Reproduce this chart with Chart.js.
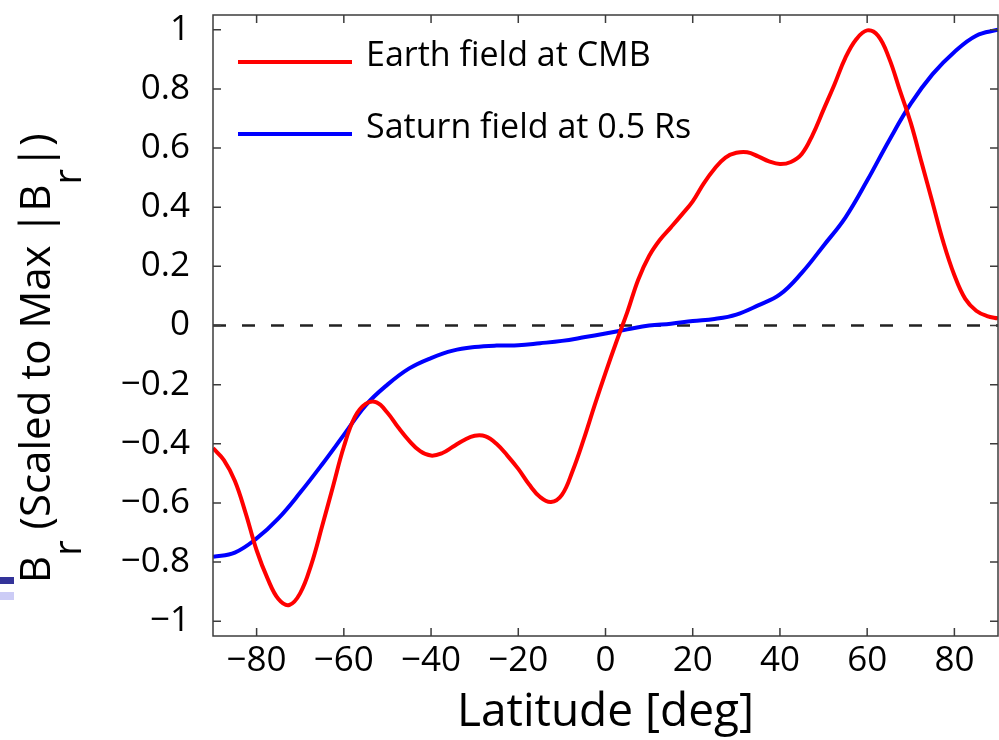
<!DOCTYPE html>
<html>
<head>
<meta charset="utf-8">
<script src="https://cdn.jsdelivr.net/npm/chart.js@4.4.0/dist/chart.umd.min.js"></script>
<style>
  body { margin: 0; background: #fff; }
  #wrap { position: relative; width: 999px; height: 740px; }
  .tab { position: absolute; left: 0; width: 14px; }
</style>
</head>
<body>
<div id="wrap">
  <canvas id="fieldChart" width="999" height="740"></canvas>
  <div class="tab" style="top:577px;height:7px;background:#333399"></div>
  <div class="tab" style="top:592px;height:8px;background:#ccccf6"></div>
</div>
<script>
// ---- data ----
const xTicks = [-80, -60, -40, -20, 0, 20, 40, 60, 80];
const yTicks = [-1, -0.8, -0.6, -0.4, -0.2, 0, 0.2, 0.4, 0.6, 0.8, 1];

const earthLabel = 'Earth field at CMB';
const earthLat = [-90, -87.5, -85, -82.5, -80, -77.5, -75, -72.5, -70, -67.5, -65, -62.5, -60, -57.5, -55, -52.5,
    -50, -47.5, -45, -42.5, -40, -37.5, -35, -32.5, -30, -27.5, -25, -22.5, -20, -17.5, -15, -12.5,
    -10, -7.5, -5, -2.5, 0, 2.5, 5, 7.5, 10, 12.5, 15, 17.5, 20, 22.5, 25, 27.5,
    30, 32.5, 35, 37.5, 40, 42.5, 45, 47.5, 50, 52.5, 55, 57.5, 60, 62.5, 65, 67.5,
    70, 72.5, 75, 77.5, 80, 82.5, 85, 87.5, 90];
const earthVal = [-0.415, -0.455, -0.525, -0.635, -0.76, -0.855, -0.925, -0.945, -0.905, -0.81, -0.68, -0.545, -0.41, -0.31, -0.265, -0.26,
    -0.295, -0.345, -0.39, -0.425, -0.44, -0.432, -0.41, -0.388, -0.373, -0.375, -0.40, -0.44, -0.485, -0.538, -0.58, -0.597,
    -0.573, -0.49, -0.385, -0.27, -0.16, -0.055, 0.045, 0.155, 0.235, 0.29, 0.332, 0.375, 0.42, 0.48, 0.53, 0.568,
    0.584, 0.586, 0.572, 0.555, 0.546, 0.553, 0.58, 0.645, 0.73, 0.815, 0.905, 0.968, 0.998, 0.98, 0.905, 0.795,
    0.685, 0.55, 0.415, 0.28, 0.17, 0.09, 0.05, 0.032, 0.024];

const saturnLabel = 'Saturn field at 0.5 Rs';
const saturnLat = [-90, -85, -80, -75, -70, -65, -60, -55, -50, -45, -40, -35, -30, -25, -20, -15, -10, -5, 0,
    5, 10, 15, 20, 25, 30, 35, 40, 45, 50, 55, 60, 65, 70, 75, 80, 85, 90];
const saturnVal = [-0.782, -0.768, -0.72, -0.652, -0.565, -0.47, -0.37, -0.27, -0.20, -0.145, -0.11, -0.085, -0.073, -0.068, -0.067, -0.06, -0.052, -0.04, -0.027,
    -0.013, 0.0, 0.006, 0.015, 0.022, 0.037, 0.068, 0.105, 0.178, 0.27, 0.365, 0.49, 0.625, 0.75, 0.85, 0.925, 0.98, 1.0];

const latRange = [-90, 90];
const zeroLine = [0, 0];

const FONT = '"Open Sans", sans-serif';

function pts(xs, ys) {
    return xs.map(function (x, i) { return { x: x, y: ys[i] }; });
}
function fmt(v) {
    return String(v).replace('-', '\u2212');
}

// box, inward ticks, legend and the y label with subscripts
const figurePlugin = {
    id: 'figure',
    afterDatasetsDraw(chart) {
        const ctx = chart.ctx;
        const a = chart.chartArea;
        const xs = chart.scales.x, ys = chart.scales.y;
        ctx.save();
        ctx.strokeStyle = '#3c3c3c';
        ctx.lineWidth = 1.5;
        ctx.strokeRect(a.left, a.top, a.right - a.left, a.bottom - a.top);
        ctx.beginPath();
        xTicks.forEach(function (t) {
            const px = xs.getPixelForValue(t);
            ctx.moveTo(px, a.bottom); ctx.lineTo(px, a.bottom - 8);
            ctx.moveTo(px, a.top); ctx.lineTo(px, a.top + 8);
        });
        yTicks.forEach(function (t) {
            const py = ys.getPixelForValue(t);
            ctx.moveTo(a.left, py); ctx.lineTo(a.left + 8, py);
            ctx.moveTo(a.right, py); ctx.lineTo(a.right - 8, py);
        });
        ctx.stroke();

        // legend
        ctx.font = '34px ' + FONT;
        ctx.textBaseline = 'middle';
        ctx.textAlign = 'left';
        [0, 1].forEach(function (i) {
            const ds = chart.data.datasets[i];
            const y = a.top + 47 + i * 72;
            ctx.strokeStyle = ds.borderColor;
            ctx.lineWidth = 4;
            ctx.beginPath();
            ctx.moveTo(a.left + 25, y);
            ctx.lineTo(a.left + 139, y);
            ctx.stroke();
            ctx.fillStyle = '#000';
            ctx.fillText(ds.label, a.left + 153, y - 6);
        });

        // y axis label  B_r (Scaled to Max |B_r|)
        ctx.translate(50, 583);
        ctx.rotate(-Math.PI / 2);
        ctx.textBaseline = 'alphabetic';
        const parts = [['B', 0], ['r', 1], [' (Scaled to Max |B', 0], ['r', 1], ['|)', 0]];
        let x = 0;
        parts.forEach(function (p) {
            ctx.font = (p[1] ? '38px ' : '42px ') + FONT;
            ctx.fillText(p[0], x, p[1] ? 31 : 0);
            x += ctx.measureText(p[0]).width;
        });
        ctx.restore();
    }
};

new Chart(document.getElementById('fieldChart'), {
    type: 'line',
    data: {
        datasets: [{
            label: earthLabel,
            data: pts(earthLat, earthVal),
            borderColor: '#ff0000',
            borderWidth: 4,
            pointRadius: 0,
            tension: 0.4,
            order: 1
        }, {
            label: saturnLabel,
            data: pts(saturnLat, saturnVal),
            borderColor: '#0000ff',
            borderWidth: 4,
            pointRadius: 0,
            tension: 0.4,
            order: 2
        }, {
            label: 'zero',
            data: pts(latRange, zeroLine),
            borderColor: '#222',
            borderWidth: 2.5,
            borderDash: [13, 16],
            pointRadius: 0,
            order: 3
        }]
    },
    options: {
        responsive: false,
        animation: false,
        layout: { padding: { top: 15, right: 1, left: 0, bottom: 0 } },
        plugins: { legend: { display: false }, tooltip: { enabled: false } },
        scales: {
            x: {
                type: 'linear',
                min: -90,
                max: 90,
                afterBuildTicks: function (s) { s.ticks = xTicks.map(function (v) { return { value: v }; }); },
                afterFit: function (s) { s.height = 104; s.paddingLeft = 0; s.paddingRight = 0; },
                grid: { display: false, drawTicks: false },
                border: { display: false },
                ticks: {
                    color: '#000',
                    padding: 4,
                    maxRotation: 0,
                    autoSkip: false,
                    font: { size: 35, family: FONT },
                    callback: fmt
                },
                title: {
                    display: true,
                    text: 'Latitude [deg]',
                    color: '#000',
                    font: { size: 46, family: FONT },
                    padding: { top: 0, bottom: 0 }
                }
            },
            y: {
                min: -1.05,
                max: 1.05,
                afterBuildTicks: function (s) { s.ticks = yTicks.map(function (v) { return { value: v }; }); },
                afterFit: function (s) { s.width = 213; s.paddingTop = 0; s.paddingBottom = 0; },
                grid: { display: false, drawTicks: false },
                border: { display: false },
                ticks: {
                    color: '#000',
                    padding: 23,
                    autoSkip: false,
                    font: { size: 35, family: FONT },
                    callback: fmt
                }
            }
        }
    },
    plugins: [figurePlugin]
});
</script>
</body>
</html>
